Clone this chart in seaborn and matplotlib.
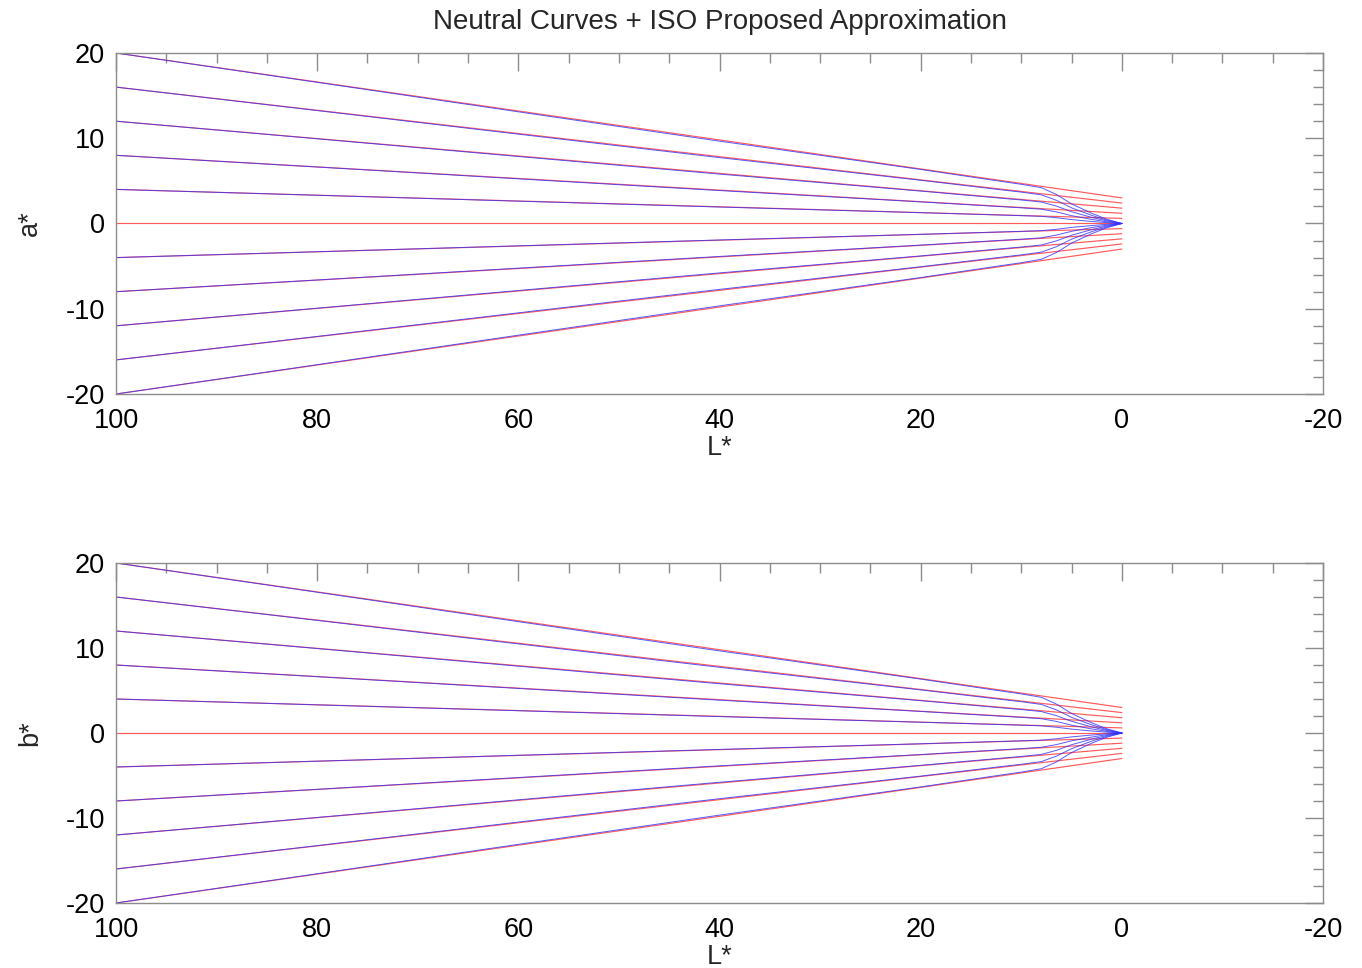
import numpy as np
import pandas as pd
import matplotlib
matplotlib.use("Agg")
import matplotlib.pyplot as plt
import seaborn as sns
from matplotlib.ticker import MultipleLocator

# ---- data ----
start_values = [20, 16, 12, 8, 4, 0, -4, -8, -12, -16, -20]   # value at L*=100
red_end_values = [3.0, 2.4, 1.8, 1.2, 0.6, 0.0, -0.6, -1.2, -1.8, -2.4, -3.0]  # value at L*=0 (ISO approx.)
red_L = [100, 0]
# neutral curve shape (blue) as a fraction of the L*=100 value
blue_L = [100, 80, 60, 40, 30, 20, 12, 10, 8, 6.5, 5, 3, 1.5, 0]
blue_frac = [1.0, 0.828, 0.655, 0.483, 0.40, 0.317, 0.247, 0.23, 0.21, 0.17, 0.115, 0.06, 0.025, 0.0]

panels = ["a*", "b*"]
title = "Neutral Curves + ISO Proposed Approximation"

# ---- build long tables ----
red_rows = []
blue_rows = []
for i, (s, e) in enumerate(zip(start_values, red_end_values)):
    for L, v in zip(red_L, [s, e]):
        red_rows.append({"curve": i, "L": L, "v": v})
    for L, f in zip(blue_L, blue_frac):
        blue_rows.append({"curve": i, "L": L, "v": s * f})
red_df = pd.DataFrame(red_rows)
blue_df = pd.DataFrame(blue_rows)

sns.set_style("white")
plt.rcParams["font.family"] = ["Liberation Sans", "DejaVu Sans"]
plt.rcParams["axes.unicode_minus"] = False

fig = plt.figure(figsize=(13.62, 9.68), dpi=100)
W, H = 1362, 968
boxes = [(116, 53, 1323, 394), (116, 563, 1323, 903)]
spine_col = "#8c8c8c"
fs = 19.5

for k, (lab, (x0, y0, x1, y1)) in enumerate(zip(panels, boxes)):
    ax = fig.add_axes([x0 / W, 1 - y1 / H, (x1 - x0) / W, (y1 - y0) / H])
    sns.lineplot(data=red_df, x="L", y="v", units="curve", estimator=None,
                 sort=False, color="#ff5a5a", linewidth=0.85, ax=ax)
    sns.lineplot(data=blue_df[blue_df["curve"] != 5], x="L", y="v", units="curve",
                 estimator=None, sort=False, color="#3030ff", linewidth=0.7,
                 alpha=0.8, ax=ax)
    ax.set_xlim(100, -20)
    ax.set_ylim(-20, 20)
    ax.xaxis.set_major_locator(MultipleLocator(20))
    ax.xaxis.set_minor_locator(MultipleLocator(5))
    ax.yaxis.set_major_locator(MultipleLocator(10))
    ax.yaxis.set_minor_locator(MultipleLocator(2))
    ax.tick_params(which="both", direction="in", top=True, right=True,
                   color=spine_col, width=1.0, labelsize=fs, labelcolor="black")
    ax.tick_params(which="major", length=13)
    ax.tick_params(which="minor", length=7)
    ax.tick_params(axis="x", which="both", pad=10)
    ax.tick_params(axis="y", which="both", pad=8)
    for sp in ax.spines.values():
        sp.set_color(spine_col)
        sp.set_linewidth(1.0)
    ax.set_xlabel("L*", fontsize=fs, labelpad=0.5)
    ax.set_ylabel(lab, fontsize=fs, labelpad=16)
    if k == 0:
        ax.set_title(title, fontsize=20, pad=17)

fig.savefig("out.png", dpi=100)
